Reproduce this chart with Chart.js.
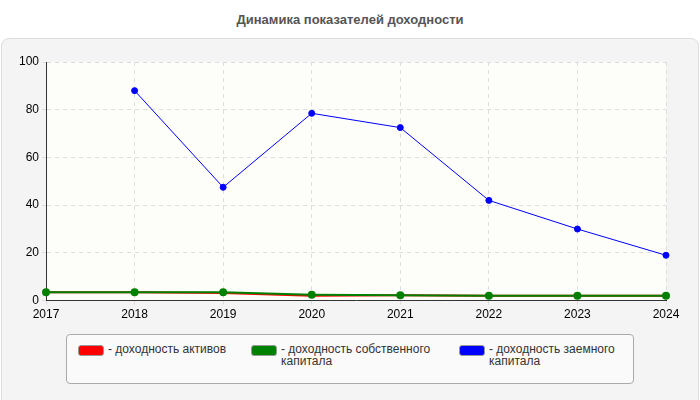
<!DOCTYPE html>
<html><head><meta charset="utf-8">
<script src="https://cdn.jsdelivr.net/npm/chart.js@4"></script>
<style>
body{margin:0;width:700px;height:400px;background:#fff;font-family:"Liberation Sans",Arial,sans-serif;position:relative;overflow:hidden}
#title{position:absolute;top:12px;left:0;width:700px;text-align:center;font-weight:bold;font-size:13px;color:#555}
#panel{position:absolute;left:1px;top:38px;width:696px;height:370px;background:#f4f4f4;border:1px solid #ddd;border-radius:8px}
#wrap{position:absolute;left:0;top:50px;width:700px;height:275px}
#legend{position:absolute;left:66px;top:334px;width:566px;height:48px;background:#fafafa;border:1px solid #aaa;border-radius:4px;font-size:12px;color:#333}
.it{position:absolute;top:8px;display:flex;line-height:12px}
.sw{width:24px;height:9px;border-radius:3px;border:1px solid #999;margin:2px 4px 0 0;flex:none}
</style></head><body>
<div id="title">Динамика показателей доходности</div>
<div id="panel"></div>
<div id="wrap"><canvas id="c" width="700" height="275"></canvas></div>
<div id="legend">
 <div class="it" style="left:11px"><div class="sw" style="background:#f00"></div>- доходность активов</div>
 <div class="it" style="left:184px"><div class="sw" style="background:#008000"></div>- доходность собственного<br>капитала</div>
 <div class="it" style="left:392px"><div class="sw" style="background:#00f"></div>- доходность заемного<br>капитала</div>
</div>
<script>
const years = [2017, 2018, 2019, 2020, 2021, 2022, 2023, 2024];
const assets = [3.5, 3.5, 3.2, 2.0, 2.2, 2.0, 2.0, 2.0];
const equity = [3.5, 3.5, 3.5, 2.5, 2.2, 2.0, 2.0, 2.0];
const debt = [null, 88, 47.5, 78.5, 72.5, 42, 30, 19];

const pts = arr => years.map((x, i) => ({x, y: arr[i]}));
const bgPlugin = {
  id: 'bg',
  beforeDraw(chart) {
    const a = chart.chartArea, ctx = chart.ctx;
    ctx.fillStyle = '#fdfdf9';
    ctx.fillRect(a.left, a.top, a.right - a.left, a.bottom - a.top);
  }
};

new Chart(document.getElementById('c'), {
  type: 'line',
  data: {
    datasets: [
      {data: pts(debt), borderColor: '#00f', backgroundColor: '#00f', borderWidth: 1, pointRadius: 3, order: 3},
      {data: pts(equity), borderColor: '#008000', backgroundColor: '#008000', borderWidth: 2, pointRadius: 3, order: 1},
      {data: pts(assets), borderColor: '#f00', backgroundColor: '#f00', borderWidth: 2, pointRadius: 0, order: 2}
    ]
  },
  options: {
    responsive: false, animation: false, clip: false,
    layout: {padding: {left: 16, right: 34, top: 12}},
    plugins: {legend: {display: false}, tooltip: {enabled: false}},
    scales: {
      x: {type: 'linear', min: 2017, max: 2024,
        ticks: {stepSize: 1, color: '#000', font: {size: 12}, callback: v => String(v)},
        grid: {color: '#ddd', tickLength: 4}, border: {color: '#333', dash: [4, 4]}},
      y: {min: 0, max: 100,
        ticks: {stepSize: 20, color: '#000', font: {size: 12}},
        grid: {color: '#ddd', tickLength: 4}, border: {color: '#333', dash: [4, 4]}}
    }
  },
  plugins: [bgPlugin]
});
</script>
</body></html>
